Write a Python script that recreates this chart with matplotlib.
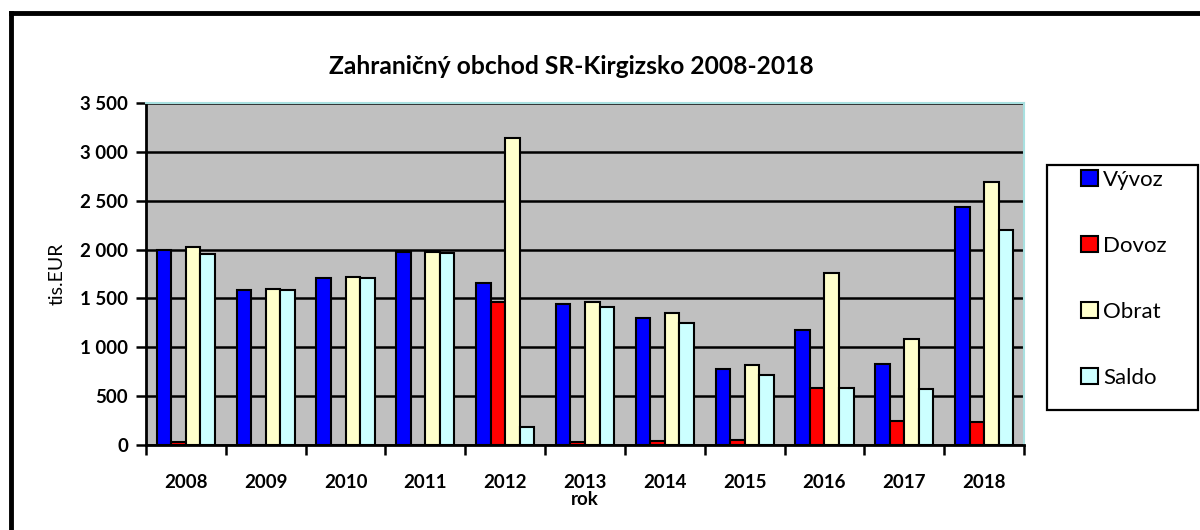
import matplotlib.pyplot as plt
import numpy as np
from matplotlib.patches import Rectangle
from matplotlib.lines import Line2D
from matplotlib.ticker import FuncFormatter, MultipleLocator, FixedLocator

plt.rcParams["font.family"] = ["Lato", "DejaVu Sans"]

years = ["2008", "2009", "2010", "2011", "2012", "2013", "2014", "2015", "2016", "2017", "2018"]
vyvoz = [1997, 1588, 1714, 1973, 1663, 1445, 1299, 773, 1179, 828, 2440]
dovoz = [31, 3, 5, 1, 1468, 27, 41, 51, 586, 242, 232]
obrat = [2031, 1595, 1724, 1973, 3139, 1465, 1346, 821, 1765, 1080, 2689]
saldo = [1956, 1585, 1704, 1970, 187, 1417, 1250, 719, 579, 569, 2201]

series_names = ["Vývoz", "Dovoz", "Obrat", "Saldo"]
series_colors = ["#0000FF", "#FF0000", "#FFFFCC", "#CCFFFF"]

fig = plt.figure(figsize=(12, 5.3), dpi=100)
ax = fig.add_axes([146 / 1200, 1 - 445 / 530, 878 / 1200, 342 / 530])
ax.set_facecolor("#C0C0C0")

x = np.arange(len(years))
width = 0.182
for i, (vals, name, color) in enumerate(zip([vyvoz, dovoz, obrat, saldo], series_names, series_colors)):
    ax.bar(x + (i - 1.5) * width, vals, width, color=color, edgecolor="black",
           linewidth=1.5, label=name, zorder=3)

ax.set_xlim(-0.5, len(years) - 0.5)
ax.set_ylim(0, 3500)
ax.yaxis.set_major_locator(MultipleLocator(500))
ax.yaxis.set_major_formatter(FuncFormatter(lambda v, _: f"{int(v):,}".replace(",", " ")))
ax.grid(axis="y", color="black", linewidth=1.8, zorder=1)
ax.set_axisbelow(True)

ax.set_xticks(x)
ax.set_xticklabels(years, fontweight="bold", fontsize=13.5)
ax.xaxis.set_minor_locator(FixedLocator(np.arange(-0.5, len(years), 1.0)))
ax.tick_params(axis="x", which="major", length=0, pad=21)
ax.tick_params(axis="x", which="minor", length=7, width=1.8, direction="out")
ax.tick_params(axis="y", length=7, width=1.8, direction="out", labelsize=13.5, pad=6)
for lbl in ax.get_yticklabels():
    lbl.set_fontweight("bold")

for side in ("left", "bottom"):
    ax.spines[side].set_color("black")
    ax.spines[side].set_linewidth(2)
for side in ("top", "right"):
    ax.spines[side].set_color("#A8E0E0")
    ax.spines[side].set_linewidth(1.5)

ax.set_ylabel("tis.EUR", fontsize=14, labelpad=10)
ax.set_xlabel("rok", fontsize=13.5, fontweight="bold", labelpad=0)

fig.text(571 / 1200, 1 - 66 / 530, "Zahraničný obchod SR-Kirgizsko 2008-2018",
         ha="center", va="center", fontsize=17.7, fontweight="bold")

# outer chart frame (top and left edges visible)
fig.add_artist(Line2D([11 / 1200, 11 / 1200], [0, 1 - 13 / 530], transform=fig.transFigure,
                      color="black", linewidth=3.5))
fig.add_artist(Line2D([11 / 1200, 1], [1 - 13 / 530, 1 - 13 / 530], transform=fig.transFigure,
                      color="black", linewidth=3.5))

# legend box
fig.add_artist(Rectangle((1047 / 1200, 1 - 410 / 530), 151 / 1200, 245 / 530,
                         transform=fig.transFigure, facecolor="white", edgecolor="black",
                         linewidth=1.6))
fig.legend(loc="center", bbox_to_anchor=(1124 / 1200, 1 - 278.5 / 530), frameon=False,
           fontsize=16, handlelength=0.75, handleheight=0.75, handletextpad=0.25,
           labelspacing=2.07)

fig.savefig("out.png", dpi=100)
